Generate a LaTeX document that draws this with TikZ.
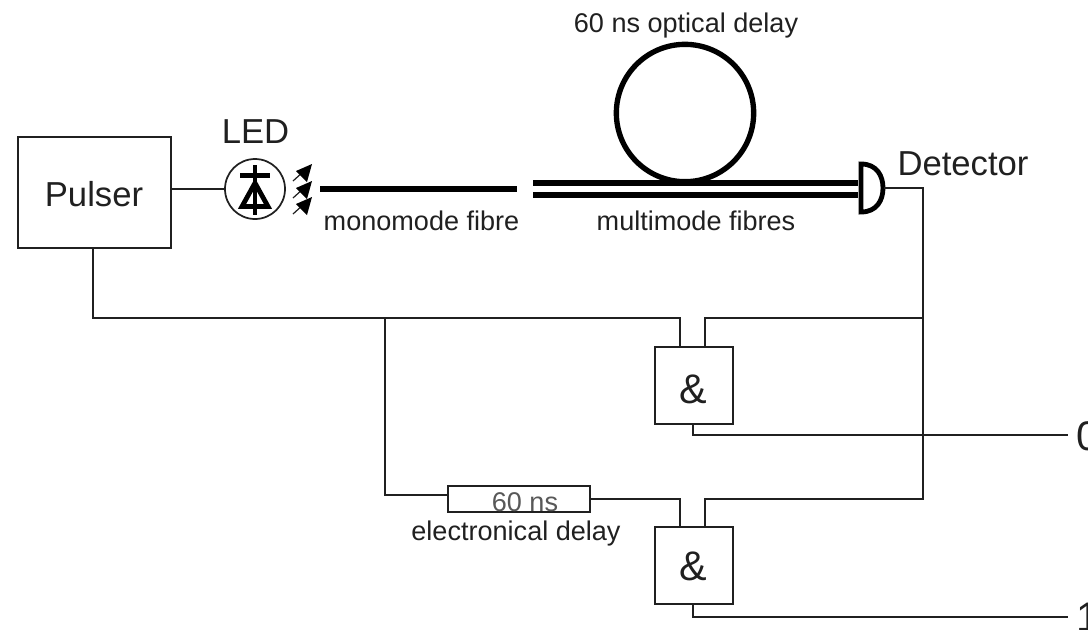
\documentclass[tikz,border=0pt]{standalone}
\usepackage{fontspec}
\setmainfont{Liberation Sans}
\usetikzlibrary{calc}
\definecolor{ink}{HTML}{202020}
\tikzset{
  x=0.75pt,y=-0.75pt,
  wire/.style={draw=ink,line width=1.4pt,line join=miter},
  boxed/.style={draw=ink,line width=1.5pt,inner sep=0pt,anchor=north west,text=ink},
  fibre/.style={black,line width=3.8pt},
  biglabel/.style={text=ink,inner sep=0pt,font=\fontsize{26pt}{28pt}\selectfont},
  hugelabel/.style={text=ink,inner sep=0pt,font=\fontsize{31pt}{33pt}\selectfont},
  smalllabel/.style={text=ink,inner sep=0pt,font=\fontsize{20.3pt}{22pt}\selectfont},
}
\begin{document}
\begin{tikzpicture}
\useasboundingbox (0,0) rectangle (1088,629);
\clip (0,0) rectangle (1088,629);
% boxes
\node[boxed,minimum width=115pt,minimum height=83pt] (pulser) at (16.5,136) {};
\node[biglabel] (pulsertext) at (94,194) {Pulser};
\node[boxed,minimum width=58.5pt,minimum height=58pt] (gatea) at (653.5,346) {};
\node[hugelabel] (ampa) at (693,389) {\&};
\node[boxed,minimum width=58.5pt,minimum height=58pt] (gateb) at (653.5,525.5) {};
\node[hugelabel] (ampb) at (693,566) {\&};
\node[boxed,minimum width=107pt,minimum height=20pt] (delay) at (446.5,484.5) {};
\node[smalllabel,text=ink!75] (delaytext) at (525,502) {60 ns};
\node[smalllabel] (delaylabel) at (516,533) {electronical delay};
% LED
\node[draw=ink,line width=1.3pt,circle,minimum size=45pt,inner sep=0pt] (led) at (255,189) {};
\node[biglabel] (ledtext) at (255.5,132) {LED};
\draw[black,line width=2.8pt] (255,165) -- (255,215);
\draw[black,line width=3.6pt] (240,175.5) -- (270,175.5);
\draw[black,line width=3.6pt,line join=miter] (255,183) -- (242,206.5) -- (268,206.5) -- cycle;
% rays
\foreach \yy in {0,17,33}{
  \draw[ink,line width=0.9pt] (293,181+\yy) -- (304,171+\yy);
  \fill[black] (312,164+\yy) -- (296,171+\yy) -- (307,182+\yy) -- cycle;
}
% fibres
\coordinate (monoa) at (320,189);
\coordinate (monob) at (517,189);
\draw[black,line width=4.8pt] (monoa) -- (monob);
\coordinate (multia) at (533,183);
\coordinate (multib) at (858,183);
\coordinate (multic) at (533,195);
\coordinate (multid) at (858,195);
\draw[fibre] (multia) -- (multib);
\draw[fibre] (multic) -- (multid);
\node[draw=black,line width=4pt,circle,minimum size=103pt,inner sep=0pt] (loop) at (685,113) {};
\node[smalllabel] (looplabel) at (686,25) {60 ns optical delay};
\node[smalllabel] (monolabel) at (421.5,221) {monomode fibre};
\node[smalllabel] (multilabel) at (696,221) {multimode fibres};
% detector
\draw[black,line width=3.6pt,line join=miter] (861,164) .. controls (877,164) and (883,176) .. (883,188) .. controls (883,200) and (877,212) .. (861,212) -- cycle;
\coordinate (detout) at (884,188);
\node[biglabel] (dettext) at (963,164) {Detector};
% wires
\draw[wire] (pulser.east |- led.west) -- (led.west);
\coordinate (detcorner) at (923,188);
\draw[wire] (detout) -- (detcorner) -- (923,499) -- (705,499) -- (705,526);
\draw[wire] (923,318) -- (705,318) -- (705,347);
\draw[wire] (93,248) -- (93,318) -- (680,318) -- (680,347);
\draw[wire] (385,318) -- (385,495) -- (447,495);
\draw[wire] (590,499) -- (680,499) -- (680,526);
\coordinate (outa) at (1068,435);
\coordinate (outb) at (1068,617);
\draw[wire] (693,424) -- (693,435) -- (outa);
\draw[wire] (693,604) -- (693,617) -- (outb);
\node[hugelabel,anchor=west] (zero) at (1076,436) {0};
\node[hugelabel,anchor=west] (one) at (1076,617) {1};
\end{tikzpicture}
\end{document}
